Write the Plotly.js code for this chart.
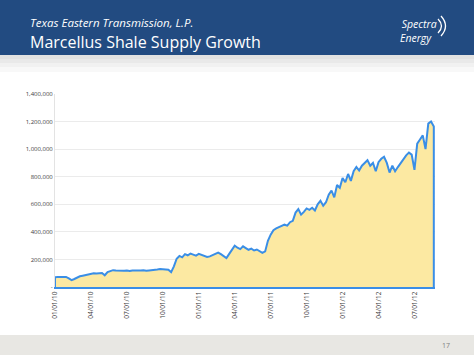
<!DOCTYPE html>
<html>
<head>
<meta charset="utf-8">
<script src="https://cdn.plot.ly/plotly-3.0.1.min.js"></script>
<style>
html,body{margin:0;padding:0;background:#ffffff;}
#chart{width:474px;height:355px;}
</style>
</head>
<body>
<div id="chart"></div>
<script>
// Weekly readings (Dth/d)
const dates2010 = ["2010-01-01","2010-01-08","2010-01-15","2010-01-22","2010-01-29",
  "2010-02-05","2010-02-12","2010-02-19","2010-02-26",
  "2010-03-05","2010-03-12","2010-03-19","2010-03-26",
  "2010-04-02","2010-04-09","2010-04-16","2010-04-23","2010-04-30",
  "2010-05-07","2010-05-14","2010-05-21","2010-05-28",
  "2010-06-04","2010-06-11","2010-06-18","2010-06-25",
  "2010-07-02","2010-07-09","2010-07-16","2010-07-23","2010-07-30",
  "2010-08-06","2010-08-13","2010-08-20","2010-08-27",
  "2010-09-03","2010-09-10","2010-09-17","2010-09-24",
  "2010-10-01","2010-10-08","2010-10-15","2010-10-22","2010-10-29",
  "2010-11-05","2010-11-12","2010-11-19","2010-11-26",
  "2010-12-03","2010-12-10","2010-12-17","2010-12-24","2010-12-31"];
const flow2010 = [70000,72000,74000,71000,73000,
  62000,50000,58000,70000,
  78000,82000,86000,88000,
  97000,99000,98000,100000,102000,
  85000,108000,115000,122000,
  120000,118000,121000,117000,
  119000,116000,120000,118000,121000,
  119000,122000,118000,120000,
  121000,124000,127000,130000,
  128000,130000,125000,108000,150000,
  205000,225000,215000,238000,
  230000,242000,235000,228000,240000];

const dates2011 = ["2011-01-07","2011-01-14","2011-01-21","2011-01-28",
  "2011-02-04","2011-02-11","2011-02-18","2011-02-25",
  "2011-03-04","2011-03-11","2011-03-18","2011-03-25",
  "2011-04-01","2011-04-08","2011-04-15","2011-04-22","2011-04-29",
  "2011-05-06","2011-05-13","2011-05-20","2011-05-27",
  "2011-06-03","2011-06-10","2011-06-17","2011-06-24",
  "2011-07-01","2011-07-08","2011-07-15","2011-07-22","2011-07-29",
  "2011-08-05","2011-08-12","2011-08-19","2011-08-26",
  "2011-09-02","2011-09-09","2011-09-16","2011-09-23","2011-09-30",
  "2011-10-07","2011-10-14","2011-10-21","2011-10-28",
  "2011-11-04","2011-11-11","2011-11-18","2011-11-25",
  "2011-12-02","2011-12-09","2011-12-16","2011-12-23","2011-12-30"];
const flow2011 = [232000,225000,218000,222000,
  230000,240000,250000,238000,
  225000,210000,240000,270000,
  300000,285000,275000,295000,282000,
  270000,278000,265000,272000,
  262000,248000,258000,335000,
  380000,412000,425000,435000,440000,
  452000,445000,470000,480000,
  540000,565000,525000,545000,570000,
  560000,575000,555000,600000,
  625000,590000,615000,670000,
  700000,650000,740000,720000,790000];

const dates2012 = ["2012-01-06","2012-01-13","2012-01-20","2012-01-27",
  "2012-02-03","2012-02-10","2012-02-17","2012-02-24",
  "2012-03-02","2012-03-09","2012-03-16","2012-03-23","2012-03-30",
  "2012-04-06","2012-04-13","2012-04-20","2012-04-27",
  "2012-05-04","2012-05-11","2012-05-18","2012-05-25",
  "2012-06-01","2012-06-08","2012-06-15","2012-06-22","2012-06-29",
  "2012-07-06","2012-07-13","2012-07-20","2012-07-27",
  "2012-08-03","2012-08-10","2012-08-17"];
const flow2012 = [760000,820000,770000,840000,
  870000,845000,880000,900000,
  920000,880000,900000,840000,905000,
  930000,945000,900000,830000,
  880000,840000,870000,900000,
  925000,955000,975000,960000,850000,
  1040000,1070000,1100000,1000000,
  1185000,1200000,1165000];

const tickDates = ["2010-01-01","2010-04-01","2010-07-01","2010-10-01","2011-01-01","2011-04-01",
  "2011-07-01","2011-10-01","2012-01-01","2012-04-01","2012-07-01"];
const tickLabels = ["01/01/10","04/01/10","07/01/10","10/01/10","01/01/11","04/01/11",
  "07/01/11","10/01/11","01/01/12","04/01/12","07/01/12"];
const yTickVals = [0,200000,400000,600000,800000,1000000,1200000,1400000];
const yTickText = ["-","200,000","400,000","600,000","800,000","1,000,000","1,200,000","1,400,000"];

// close the area outline down to zero at both ends
const xs = [dates2010[0]].concat(dates2010, dates2011, dates2012, [dates2012[dates2012.length-1]]);
const ys = [0].concat(flow2010, flow2011, flow2012, [0]);

// layout geometry (plot area in pixels)
const L = 55, R = 435, T = 94, B = 287, W = 474, H = 355;
const px = x => (x - L) / (R - L);
const py = y => (B - y) / (B - T);

const shapes = [
  {type:'rect', xref:'paper', yref:'paper', x0:px(0), x1:px(W), y0:py(55), y1:py(0), fillcolor:'#224b81', line:{width:0}, layer:'below'},
  {type:'rect', xref:'paper', yref:'paper', x0:px(0), x1:px(W), y0:py(59), y1:py(55), fillcolor:'#e2e2e2', line:{width:0}, layer:'below'},
  {type:'rect', xref:'paper', yref:'paper', x0:px(0), x1:px(W), y0:py(63), y1:py(59), fillcolor:'#e9e9e9', line:{width:0}, layer:'below'},
  {type:'rect', xref:'paper', yref:'paper', x0:px(0), x1:px(W), y0:py(67), y1:py(63), fillcolor:'#f1f1f1', line:{width:0}, layer:'below'},
  {type:'rect', xref:'paper', yref:'paper', x0:px(0), x1:px(W), y0:py(72), y1:py(67), fillcolor:'#f8f8f8', line:{width:0}, layer:'below'},
  {type:'rect', xref:'paper', yref:'paper', x0:px(0), x1:px(W), y0:py(H), y1:py(335), fillcolor:'#e8e7e3', line:{width:0}, layer:'below'},
  {type:'path', xref:'paper', yref:'paper',
   path:`M ${px(438)} ${py(19)} Q ${px(445)} ${py(26)} ${px(438)} ${py(33)}`, line:{color:'#ffffff', width:1.3}},
  {type:'path', xref:'paper', yref:'paper',
   path:`M ${px(441)} ${py(16)} Q ${px(450)} ${py(26)} ${px(441)} ${py(36)}`, line:{color:'#ffffff', width:1.3}}
];

const annotations = [
  {xref:'paper', yref:'paper', x:px(28), y:py(34), xanchor:'left', yanchor:'middle', align:'left', showarrow:false,
   text:'<span style="font-size:11.5px"><i>Texas Eastern Transmission, L.P.</i></span><br>Marcellus Shale Supply Growth',
   font:{family:'Open Sans', size:16, color:'#ffffff'}},
  {xref:'paper', yref:'paper', x:px(439), y:py(31), xanchor:'right', yanchor:'middle', align:'right', showarrow:false,
   text:'<i>Spectra</i><br><i>Energy</i>\u00a0\u00a0', font:{family:'Open Sans', size:10.5, color:'#ffffff'}},
  {xref:'paper', yref:'paper', x:px(452), y:py(345), xanchor:'right', yanchor:'middle', showarrow:false,
   text:'17', font:{family:'Open Sans', size:7, color:'#7f7f7f'}}
];

const trace = {
  x: xs, y: ys, type:'scatter', mode:'lines',
  fill:'tozeroy', fillcolor:'#fce9a2',
  line:{color:'#3a8ee6', width:2},
  hoverinfo:'skip'
};

const layout = {
  width:W, height:H,
  margin:{l:L, r:W-R, t:T, b:H-B, pad:0},
  paper_bgcolor:'#ffffff', plot_bgcolor:'#ffffff',
  showlegend:false,
  shapes: shapes,
  annotations: annotations,
  xaxis:{
    type:'date', range:['2010-01-01','2012-08-20'],
    tickvals: tickDates, ticktext: tickLabels, tickangle:-90,
    tickfont:{family:'Open Sans', size:6.5, color:'#404040'},
    showgrid:false, zeroline:false,
    showline:true, linecolor:'#3a8ee6', linewidth:2, ticks:'', ticklen:0
  },
  yaxis:{
    range:[0,1400000], tickvals:yTickVals, ticktext:yTickText,
    tickfont:{family:'Open Sans', size:6, color:'#404040'},
    showgrid:true, gridcolor:'#ebebeb', gridwidth:1,
    zeroline:false, showline:true, linecolor:'#e3e3e3', linewidth:1, ticks:''
  }
};

Plotly.newPlot('chart', [trace], layout, {displayModeBar:false, staticPlot:true});
</script>
</body>
</html>
